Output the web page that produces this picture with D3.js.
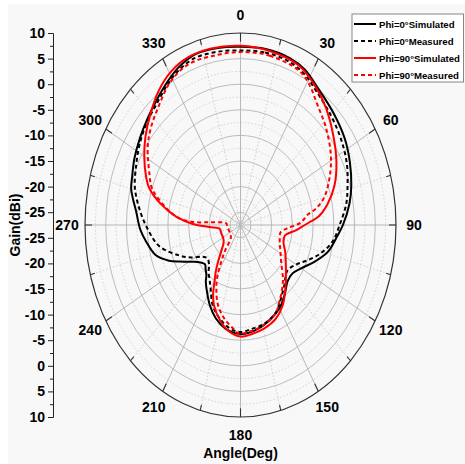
<!DOCTYPE html>
<html>
<head>
<meta charset="utf-8">
<title>Gain pattern</title>
<script src="https://cdn.jsdelivr.net/npm/d3@7"></script>
<style>
  body { margin: 0; background: #fff; }
  text { font-family: "Liberation Sans", Arial, sans-serif; font-weight: bold; }
</style>
</head>
<body>
<script>
// angle in degrees, gain in dBi
var bsAngle = [0,10,20,27,35,46,56,65,74,81,90,95,104,112,120,127,134,142,150,158,168,178,183,190,198,205,213,217,220,224,228,231,237,244,248,254,262,268,276,281,285,290,297,305,313,321,328,334,342,351];
var bsGain  = [7.3,7.4,7.2,6.6,5.1,3.8,2.8,1.6,0.3,-0.9,-2.8,-4.0,-5.8,-8.3,-10.6,-11.8,-11.7,-10.2,-8.7,-7.8,-6.8,-6.2,-6.3,-6.9,-8.3,-10.1,-12.5,-13.6,-14.7,-15.4,-16.0,-15.7,-14.3,-11.2,-8.9,-6.2,-4.5,-3.3,-2.2,-1.1,-0.2,0.3,1.2,2.1,3.1,4.3,5.6,6.7,7.6,7.5];

var bdAngle = [0,10,20,28,35,46,56,65,73,81,90,98,106,113,119,128,138,146,153,163,173,180,187,195,203,210,215,220,224,230,233,236,242,248,258,268,277,286,295,303,311,319,327,333,341,350];
var bdGain  = [6.6,6.7,6.5,5.7,4.4,3.0,1.9,0.8,-0.5,-1.7,-3.6,-5.0,-7.4,-9.9,-11.8,-13.1,-11.7,-10.1,-8.5,-7.4,-7.0,-6.6,-7.1,-8.5,-10.4,-13.1,-14.5,-15.5,-16.6,-17.2,-17.0,-16.4,-14.0,-11.6,-7.5,-5.1,-3.0,-1.0,0.25,1.5,2.6,3.55,5.0,6.1,6.9,6.8];

var rsAngle = [0,12,24,33,42,52,62,71,79,85,88,94,101,108,116,130,139,147,155,164,173,180,188,195,202,206,209,213,217,222,230,238,250,262,267,271,276,282,288,292,300,307,315,323,331,339,348];
var rsGain  = [7.5,7.2,6.7,5.2,3.3,0.9,-1.3,-3.5,-6.1,-8.6,-10.8,-13.9,-16.6,-16.6,-15.5,-13.2,-11.0,-8.8,-7.3,-6.5,-6.0,-5.7,-6.6,-8.3,-10.5,-12.4,-14.5,-16.5,-18.5,-20.5,-22.2,-22.6,-22.6,-22.4,-20.0,-16.0,-11.9,-7.9,-4.4,-3.0,-0.7,1.2,3.2,5.3,6.85,7.6,7.7];

var rdAngle = [0,12,25,31,38,47,58,67,75,80,83,88,93,98,109,118,126,137,148,155,166,175,181,185,192,199,205,209,213,217,222,235,250,265,276,274,273,276,285,289,294,304,311,320,329,338,348];
var rdGain  = [6.3,6.3,5.8,4.6,2.5,0.6,-1.8,-4.2,-6.6,-9.0,-11.2,-12.9,-16.0,-17.7,-17.5,-16.6,-15.4,-12.5,-9.8,-8.1,-7.0,-6.5,-6.3,-7.2,-8.8,-10.9,-13.7,-16.0,-19.0,-21.5,-24.0,-24.5,-24.5,-24.3,-24.0,-20.0,-16.0,-11.9,-6.8,-4.8,-3.5,-0.5,1.2,3.05,5.2,6.3,6.2];

var seriesNames = ["Phi=0\u00b0Simulated", "Phi=0\u00b0Measured", "Phi=90\u00b0Simulated", "Phi=90\u00b0Measured"];
var angleTicks = [0,30,60,90,120,150,180,210,240,270,300,330];
var gainTicks = [-25,-20,-15,-10,-5,0,5,10];
var gainMinor = [-22.5,-17.5,-12.5,-7.5,-2.5,2.5,7.5];

var width = 465, height = 464;
var cx = 240.5, cy = 225, rx = 155.5, ry = 192;
var gMin = -27.5, gMax = 10;

var svg = d3.select("body").append("svg")
    .attr("width", width)
    .attr("height", height);

svg.append("rect")
    .attr("x", 8).attr("y", 4)
    .attr("width", width - 8).attr("height", height - 4)
    .attr("fill", "#f8f8f8");

var rScale = d3.scaleLinear().domain([gMin, gMax]).range([0, 1]);

function pt(a, g) {
    var r = rScale(g), t = a * Math.PI / 180;
    return [cx + rx * r * Math.sin(t), cy - ry * r * Math.cos(t)];
}

var grid = svg.append("g");

// rings
grid.selectAll(".minor-ring").data(gainMinor).enter().append("ellipse")
    .attr("cx", cx).attr("cy", cy)
    .attr("rx", d => rx * rScale(d)).attr("ry", d => ry * rScale(d))
    .attr("fill", "none").attr("stroke", "#c8c8c8")
    .attr("stroke-width", 0.8).attr("stroke-dasharray", "1.5,2");
grid.selectAll(".major-ring").data(gainTicks.filter(d => d < gMax)).enter().append("ellipse")
    .attr("cx", cx).attr("cy", cy)
    .attr("rx", d => rx * rScale(d)).attr("ry", d => ry * rScale(d))
    .attr("fill", "none").attr("stroke", "#b4b4b4").attr("stroke-width", 0.9);

// spokes
var spokes = d3.range(0, 360, 15);
grid.selectAll(".spoke").data(spokes).enter().append("line")
    .attr("x1", cx).attr("y1", cy)
    .attr("x2", d => pt(d, gMax)[0]).attr("y2", d => pt(d, gMax)[1])
    .attr("stroke", d => d % 30 === 0 ? "#b0b0b0" : "#c8c8c8")
    .attr("stroke-width", 0.9)
    .attr("stroke-dasharray", d => d % 30 === 0 ? null : "1.5,2");

// outer boundary
svg.append("ellipse")
    .attr("cx", cx).attr("cy", cy).attr("rx", rx).attr("ry", ry)
    .attr("fill", "none").attr("stroke", "#333").attr("stroke-width", 1.2);

// angular ticks
svg.selectAll(".atick").data(spokes).enter().append("line")
    .attr("x1", d => pt(d, gMax)[0]).attr("y1", d => pt(d, gMax)[1])
    .attr("x2", d => pt(d, rScale.invert(d % 30 === 0 ? 0.955 : 0.97))[0])
    .attr("y2", d => pt(d, rScale.invert(d % 30 === 0 ? 0.955 : 0.97))[1])
    .attr("stroke", "#333").attr("stroke-width", 1.1);

// angle labels
svg.selectAll(".alabel").data(angleTicks).enter().append("text")
    .attr("x", d => pt(d, gMax)[0] + 18 * Math.sin(d * Math.PI / 180))
    .attr("y", d => pt(d, gMax)[1] - 18 * Math.cos(d * Math.PI / 180))
    .attr("text-anchor", "middle")
    .attr("dominant-baseline", "central")
    .attr("font-size", 14)
    .text(d => d);

// curves
var line = d3.line()
    .x(d => pt(d[0], d[1])[0])
    .y(d => pt(d[0], d[1])[1])
    .curve(d3.curveCatmullRomClosed.alpha(0.5));

var series = [
    {data: d3.zip(bsAngle, bsGain), color: "#000", dash: null},
    {data: d3.zip(bdAngle, bdGain), color: "#000", dash: "4,3"},
    {data: d3.zip(rsAngle, rsGain), color: "#f00", dash: null},
    {data: d3.zip(rdAngle, rdGain), color: "#f00", dash: "4,3"}
];

svg.selectAll(".curve").data(series).enter().append("path")
    .attr("d", d => line(d.data))
    .attr("fill", "none")
    .attr("stroke", d => d.color)
    .attr("stroke-width", 2)
    .attr("stroke-dasharray", d => d.dash);

// gain axis (top half and bottom half)
var axisX = 53;
var yTop = d3.scaleLinear().domain([gMin, gMax]).range([cy, cy - ry]);
var yBot = d3.scaleLinear().domain([gMin, gMax]).range([cy, cy + ry]);

[yTop, yBot].forEach(function(s) {
    var g = svg.append("g").attr("transform", "translate(" + axisX + ",0)");
    g.call(d3.axisLeft(s).tickValues(gainMinor).tickSize(3).tickSizeOuter(0).tickFormat(""));
    var g2 = svg.append("g").attr("transform", "translate(" + axisX + ",0)");
    g2.call(d3.axisLeft(s).tickValues(gainTicks).tickSize(5).tickSizeOuter(0).tickFormat(d => String(d)));
    g2.selectAll("text").attr("font-size", 14).attr("font-family", "Liberation Sans, Arial, sans-serif")
        .attr("font-weight", "bold").attr("fill", "#000");
    svg.selectAll(".domain").attr("stroke", "#222");
    svg.selectAll(".tick line").attr("stroke", "#222");
});

svg.append("text")
    .attr("transform", "translate(15," + cy + ") rotate(-90)")
    .attr("text-anchor", "middle")
    .attr("dominant-baseline", "central")
    .attr("font-size", 14)
    .text("Gain(dBi)");

svg.append("text")
    .attr("x", cx).attr("y", 453)
    .attr("text-anchor", "middle")
    .attr("dominant-baseline", "central")
    .attr("font-size", 14)
    .text("Angle(Deg)");

// legend
var lg = svg.append("g").attr("transform", "translate(352,14)");
lg.append("rect")
    .attr("width", 111.5).attr("height", 68)
    .attr("fill", "#fff").attr("stroke", "#888").attr("stroke-width", 1);
var items = lg.selectAll(".item").data(series).enter().append("g")
    .attr("transform", (d, i) => "translate(0," + (10 + i * 17) + ")");
items.append("line")
    .attr("x1", 2).attr("x2", 24)
    .attr("stroke", d => d.color).attr("stroke-width", 2)
    .attr("stroke-dasharray", d => d.dash);
items.append("text")
    .attr("x", 27).attr("dominant-baseline", "central")
    .attr("font-size", 9.6)
    .text((d, i) => seriesNames[i]);
</script>
</body>
</html>
